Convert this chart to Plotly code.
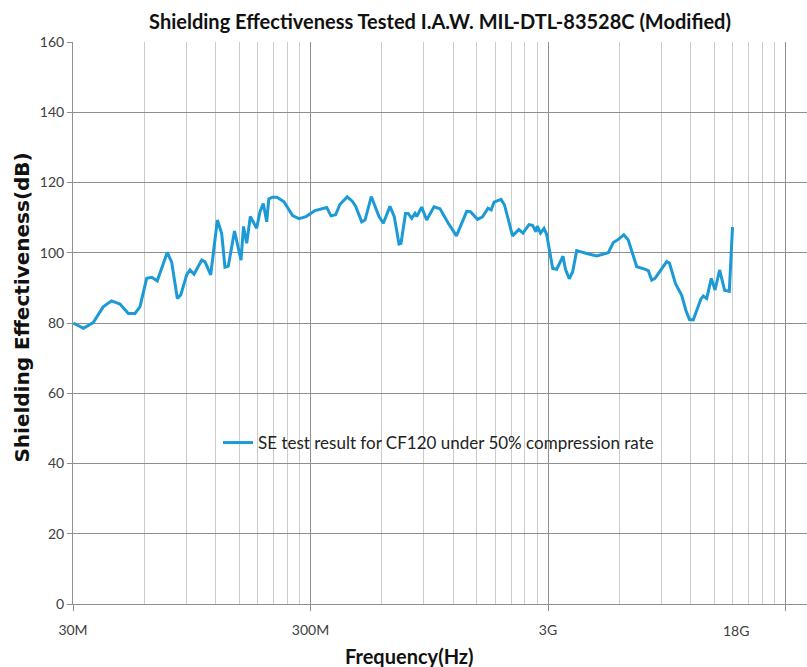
import math
import plotly.graph_objects as go

# ---- data ----
freq_mhz = [30.1, 33.2, 36.5, 40.2, 43.6, 47.3, 51.3, 54.7, 57.4, 61.3,
            64.4, 67.9, 74.8, 78.1, 82.5, 85.3, 90.3, 93.3, 97.0, 104.5,
            107.9, 114.0, 121.6, 126.8, 130.9, 135.2, 143.6, 152.9, 156.7, 161.6,
            167.4, 178.0, 183.8, 189.8, 196.2, 200.2, 207.5, 216.8, 232.0, 252.0,
            268.4, 287.2, 313.4, 340.3, 351.0, 366.0, 382.5, 399.4, 428.1, 450.7,
            465.0, 492.9, 508.9, 540.9, 582.9, 607.8, 648.3, 675.9, 707.6, 721.5,
            753.6, 774.3, 800.4, 826.3, 840.0, 881.4, 925.2, 993.3, 1053, 1141,
            1235, 1364, 1415, 1515, 1590, 1677, 1730, 1778, 1902, 1968,
            2127, 2261, 2355, 2495, 2581, 2671, 2705, 2789, 2886, 2962,
            3015, 3140, 3264, 3469, 3554, 3687, 3811, 3962, 4367, 4810,
            5383, 5649, 5931, 6256, 6534, 7092, 7611, 7934, 8200, 8466,
            9482, 9744, 10327, 10966, 11434, 11829, 12271, 13198, 13520, 13974,
            14614, 15148, 15836, 16623, 17400, 17950]
se_db = [80.0, 78.5, 80.1, 84.6, 86.3, 85.4, 82.7, 82.7, 84.6, 92.7,
         93.0, 92.0, 100.1, 97.3, 87.0, 88.0, 93.7, 95.1, 93.9, 97.9,
         97.4, 93.7, 109.3, 105.5, 95.9, 96.2, 106.2, 97.9, 107.5, 102.7,
         110.3, 107.0, 111.7, 114.0, 108.8, 115.3, 115.8, 115.8, 114.5, 110.6,
         109.7, 110.3, 112.0, 112.5, 112.9, 110.5, 110.8, 113.8, 115.9, 114.6,
         113.2, 108.8, 109.3, 116.0, 110.3, 108.4, 113.2, 110.3, 102.5, 102.7,
         111.2, 111.2, 109.8, 111.2, 110.3, 113.0, 109.3, 113.1, 112.5, 108.4,
         104.8, 111.8, 111.7, 109.5, 110.2, 112.7, 112.2, 114.4, 115.2, 113.6,
         104.8, 106.6, 105.6, 108.0, 107.8, 106.0, 107.6, 105.6, 106.9, 105.2,
         102.5, 95.5, 95.3, 99.0, 95.3, 92.6, 94.6, 100.6, 99.8, 99.1,
         100.0, 102.9, 103.8, 105.1, 103.6, 96.0, 95.4, 94.9, 92.2, 92.7,
         97.5, 97.0, 91.2, 87.9, 83.5, 81.0, 80.9, 86.8, 87.7, 87.0,
         92.7, 89.4, 95.1, 89.3, 89.0, 107.3]

major_ticks_hz = [3e7, 3e8, 3e9, 3e10]
major_labels = ["30M", "300M", "3G", ""]
extra_label_hz = 1.8e10
extra_label = "18G"
minor_multipliers = [2, 3, 4, 5, 6, 7, 8, 9]
series_name = "SE test result for CF120 under 50% compression rate"
title_text = "Shielding Effectiveness Tested I.A.W. MIL-DTL-83528C (Modified)"

# ---- style ----
NARROW = "Liberation Sans Narrow, Arial Narrow, Lato, sans-serif"
LINE_COLOR = "#1b9ad6"
MAJOR_GRID = "#8f8f8f"
MINOR_GRID = "#cccccc"

x_hz = [f * 1e6 for f in freq_mhz]
minor_vals = [m * d for d in major_ticks_hz[:-1] for m in minor_multipliers]

fig = go.Figure()
fig.add_trace(go.Scatter(x=x_hz, y=se_db, mode="lines", name=series_name,
                         line=dict(color=LINE_COLOR, width=3)))

x0 = math.log10(3e7)
x1 = x0 + (807 - 73) / 237.5

fig.update_layout(
    width=807, height=667,
    margin=dict(l=73, r=0, t=42, b=63),
    paper_bgcolor="white", plot_bgcolor="white",
    title=dict(text="<b>" + title_text + "</b>", x=0.5, xref="paper", xanchor="center",
               y=1 - 22 / 667, yref="container", yanchor="middle",
               font=dict(family=NARROW, size=20, color="#111111")),
    showlegend=True,
    legend=dict(x=(218 - 73) / 734, y=(604 - 443) / 562, xanchor="left", yanchor="middle",
                bgcolor="rgba(0,0,0,0)", borderwidth=0,
                font=dict(family=NARROW, size=17, color="#222222")),
    font=dict(family=NARROW, size=14, color="#404040"),
)

fig.update_xaxes(type="log", range=[x0, x1],
                 tickmode="array", tickvals=major_ticks_hz, ticktext=major_labels,
                 showgrid=True, gridcolor=MAJOR_GRID, gridwidth=1,
                 ticks="outside", ticklen=6, tickcolor=MAJOR_GRID,
                 showline=True, linecolor=MAJOR_GRID, linewidth=1,
                 zeroline=False, ticklabelstandoff=7,
                 tickfont=dict(family=NARROW, size=14, color="#404040"),
                 minor=dict(tickmode="array", tickvals=minor_vals, showgrid=True,
                            gridcolor=MINOR_GRID, gridwidth=1, ticks=""))

fig.update_yaxes(range=[0, 160], tickmode="linear", tick0=0, dtick=20,
                 showgrid=True, gridcolor=MAJOR_GRID, gridwidth=1,
                 ticks="outside", ticklen=5, tickcolor=MAJOR_GRID,
                 showline=True, linecolor=MAJOR_GRID, linewidth=1,
                 zeroline=False,
                 tickfont=dict(family=NARROW, size=14, color="#404040"))

fig.add_annotation(x=math.log10(extra_label_hz), y=0, xref="x", yref="paper",
                   text=extra_label, showarrow=False, yanchor="top", yshift=-16,
                   xshift=3, font=dict(family=NARROW, size=14, color="#404040"))
fig.add_annotation(x=-0.07, y=(604 - 308) / 562, xref="paper", yref="paper",
                   text="<b>Shielding Effectiveness(dB)</b>", textangle=-90,
                   showarrow=False, xanchor="center", yanchor="middle",
                   font=dict(family="DejaVu Sans, sans-serif", size=20, color="#111111"))
fig.add_annotation(x=(409 - 73) / 734, y=-(656 - 604) / 562, xref="paper", yref="paper",
                   text="<b>Frequency(Hz)</b>", showarrow=False,
                   xanchor="center", yanchor="middle",
                   font=dict(family=NARROW, size=20, color="#111111"))

fig.write_html("out.html", config={"displayModeBar": False},
               post_script="document.body.style.margin='0';")
